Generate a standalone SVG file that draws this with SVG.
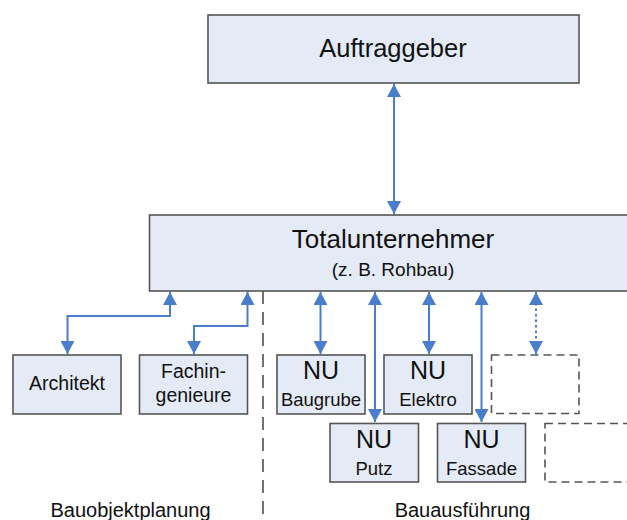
<svg xmlns="http://www.w3.org/2000/svg" width="627" height="520" viewBox="0 0 627 520">
<style>
.box{fill:#E5EBF6;stroke:#555;stroke-width:1.6}
.dbox{fill:none;stroke:#555;stroke-width:1.6;stroke-dasharray:8,5}
.t{font-family:"Liberation Sans",Arial,sans-serif;fill:#111;text-anchor:middle}
.con{fill:none;stroke:#4A7DCB;stroke-width:2;marker-start:url(#ah);marker-end:url(#ah)}
.dot{stroke-dasharray:2.5,3}
.sep{stroke:#444;stroke-width:1.5;stroke-dasharray:13,8;fill:none}
</style>
<defs>
<marker id="ah" markerUnits="userSpaceOnUse" markerWidth="14" markerHeight="14" viewBox="0 0 14 14" refX="13" refY="7" orient="auto-start-reverse">
<path d="M0,0 L13,7 L0,14 Z" fill="#4A7DCB"/>
</marker>
</defs>
<rect width="627" height="520" fill="#fff"/>
<g id="connectors">
<line class="con" x1="394" y1="84" x2="394" y2="214"/>
<polyline class="con" points="170,292 170,316 67.5,316 67.5,354"/>
<polyline class="con" points="247.5,292 247.5,326 194,326 194,354"/>
<line class="con" x1="320.5" y1="292" x2="320.5" y2="354"/>
<line class="con" x1="375" y1="292" x2="375" y2="422"/>
<line class="con" x1="429" y1="292" x2="429" y2="354"/>
<line class="con" x1="481.5" y1="292" x2="481.5" y2="422"/>
<line class="con dot" x1="536" y1="292" x2="536" y2="354"/>
</g>
<line id="separator" class="sep" x1="263" y1="291" x2="263" y2="520"/>
<g id="auftraggeber">
<rect class="box" x="208" y="15" width="371" height="68"/>
<text class="t" x="393" y="57" font-size="25.5">Auftraggeber</text>
</g>
<g id="totalunternehmer">
<rect class="box" x="149.5" y="215" width="490" height="76"/>
<text class="t" x="393" y="248" font-size="26">Totalunternehmer</text>
<text class="t" x="393" y="276" font-size="19">(z. B. Rohbau)</text>
</g>
<g id="architekt">
<rect class="box" x="13" y="355" width="108" height="59"/>
<text class="t" x="67" y="390" font-size="19.5">Architekt</text>
</g>
<g id="fachingenieure">
<rect class="box" x="139.5" y="355" width="108" height="59"/>
<text class="t" x="193.5" y="378" font-size="19.5">Fachin-</text>
<text class="t" x="193.5" y="402" font-size="19.5">genieure</text>
</g>
<g id="nu-baugrube">
<rect class="box" x="277" y="355" width="88" height="59"/>
<text class="t" x="321" y="379" font-size="25">NU</text>
<text class="t" x="321" y="406" font-size="18.5">Baugrube</text>
</g>
<g id="nu-elektro">
<rect class="box" x="384" y="355" width="88" height="59"/>
<text class="t" x="428" y="379" font-size="25">NU</text>
<text class="t" x="428" y="406" font-size="18.5">Elektro</text>
</g>
<g id="placeholder-1">
<rect class="dbox" x="491.5" y="355" width="87.5" height="58.5"/>
</g>
<g id="nu-putz">
<rect class="box" x="330" y="423.5" width="88.5" height="58.5"/>
<text class="t" x="374" y="448" font-size="25">NU</text>
<text class="t" x="374" y="474.5" font-size="18.5">Putz</text>
</g>
<g id="nu-fassade">
<rect class="box" x="437.5" y="423.5" width="88" height="58.5"/>
<text class="t" x="481.5" y="448" font-size="25">NU</text>
<text class="t" x="481.5" y="474.5" font-size="18.5">Fassade</text>
</g>
<g id="placeholder-2">
<rect class="dbox" x="545" y="423.5" width="100" height="58.5"/>
</g>
<g id="labels">
<text class="t" x="130.5" y="517" font-size="20">Bauobjektplanung</text>
<text class="t" x="462.5" y="517" font-size="20">Bauausführung</text>
</g>
</svg>
